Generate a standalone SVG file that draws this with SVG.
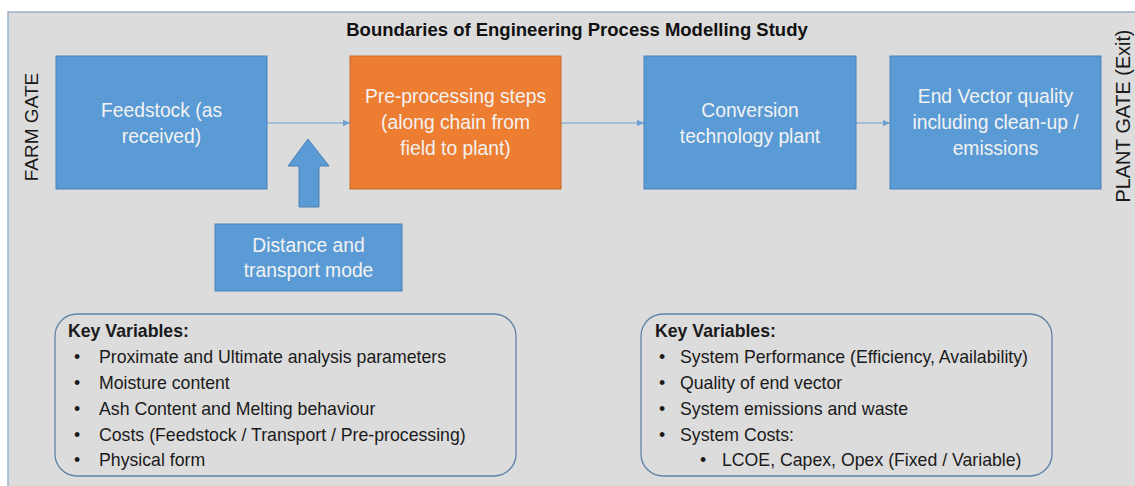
<svg xmlns="http://www.w3.org/2000/svg" width="1135" height="486" viewBox="0 0 1135 486">
<defs>
<style>
.box{fill:#5b9bd5;stroke:#4a80b4;stroke-width:1}
.orange{fill:#ed7d31;stroke:#c5692c;stroke-width:1}
.lbl{font-family:"Liberation Sans",Arial,sans-serif;font-size:19.3px;fill:#f2f2f2;text-anchor:middle}
.kv{fill:none;stroke:#5f82a6;stroke-width:1.3}
.kt{font-family:"Liberation Sans",Arial,sans-serif;font-size:17.7px;fill:#1a1a1a}
.kb{font-family:"Liberation Sans",Arial,sans-serif;font-size:17.7px;font-weight:bold;fill:#1a1a1a}
.gate{font-family:"Liberation Sans",Arial,sans-serif;font-size:19px;fill:#1a1a1a;text-anchor:middle}
.conn{stroke:#6fa0d0;stroke-width:1;fill:none}
</style>
<marker id="ah" markerWidth="8" markerHeight="8" refX="7" refY="4" orient="auto" markerUnits="userSpaceOnUse">
<path d="M0,0.8 L7,4 L0,7.2 Z" fill="#6fa0d0"/>
</marker>
</defs>
<rect x="0" y="0" width="1135" height="486" fill="#ffffff"/>
<rect id="panel" x="8" y="12" width="1140" height="490" fill="#dcdcdc" stroke="#98b0c8" stroke-width="1.5"/>
<text x="577" y="36" font-family="Liberation Sans,Arial,sans-serif" font-size="18.5" font-weight="bold" fill="#111" text-anchor="middle">Boundaries of Engineering Process Modelling Study</text>
<text class="gate" transform="translate(38,127) rotate(-90)">FARM GATE</text>
<text class="gate" font-size="19.8" style="font-size:19.8px" transform="translate(1130,116) rotate(-90)">PLANT GATE (Exit)</text>
<g id="connectors">
<line class="conn" x1="267" y1="123" x2="350" y2="123" marker-end="url(#ah)"/>
<line class="conn" x1="561" y1="123" x2="644" y2="123" marker-end="url(#ah)"/>
<line class="conn" x1="856" y1="123" x2="890" y2="123" marker-end="url(#ah)"/>
<path d="M308,139 L329,166 L319,166 L319,207 L299,207 L299,166 L288,166 Z" fill="#5b9bd5" stroke="#4a80b4" stroke-width="1"/>
</g>
<g id="feedstock">
<rect class="box" x="56" y="56" width="211" height="133"/>
<text class="lbl" x="161.5" y="117">Feedstock (as</text>
<text class="lbl" x="161.5" y="143">received)</text>
</g>
<g id="preprocessing">
<rect class="orange" x="350" y="56" width="211" height="133"/>
<text class="lbl" x="455.5" y="103">Pre-processing steps</text>
<text class="lbl" x="455.5" y="129">(along chain from</text>
<text class="lbl" x="455.5" y="155">field to plant)</text>
</g>
<g id="conversion">
<rect class="box" x="644" y="56" width="212" height="133"/>
<text class="lbl" x="750" y="117">Conversion</text>
<text class="lbl" x="750" y="143">technology plant</text>
</g>
<g id="endvector">
<rect class="box" x="890" y="56" width="211" height="133"/>
<text class="lbl" x="995.5" y="103">End Vector quality</text>
<text class="lbl" x="995.5" y="129">including clean-up /</text>
<text class="lbl" x="995.5" y="155">emissions</text>
</g>
<g id="distance">
<rect class="box" x="215" y="224" width="187" height="67"/>
<text class="lbl" x="308.5" y="252">Distance and</text>
<text class="lbl" x="308.5" y="277">transport mode</text>
</g>
<g id="keyvars-left">
<rect class="kv" x="55" y="314" width="461" height="162" rx="22" ry="22"/>
<text class="kb" x="68" y="337">Key Variables:</text>
<g class="kt">
<text x="74" y="362.5">•</text><text x="99" y="362.5">Proximate and Ultimate analysis parameters</text>
<text x="74" y="388.5">•</text><text x="99" y="388.5">Moisture content</text>
<text x="74" y="414.5">•</text><text x="99" y="414.5">Ash Content and Melting behaviour</text>
<text x="74" y="440.5">•</text><text x="99" y="440.5">Costs (Feedstock / Transport / Pre-processing)</text>
<text x="74" y="466">•</text><text x="99" y="466">Physical form</text>
</g>
</g>
<g id="keyvars-right">
<rect class="kv" x="641" y="314" width="411" height="162" rx="22" ry="22"/>
<text class="kb" x="655" y="337">Key Variables:</text>
<g class="kt">
<text x="659" y="362.5">•</text><text x="680" y="362.5">System Performance (Efficiency, Availability)</text>
<text x="659" y="388.5">•</text><text x="680" y="388.5">Quality of end vector</text>
<text x="659" y="414.5">•</text><text x="680" y="414.5">System emissions and waste</text>
<text x="659" y="440.5">•</text><text x="680" y="440.5">System Costs:</text>
<text x="700" y="466">•</text><text x="722" y="466">LCOE, Capex, Opex (Fixed / Variable)</text>
</g>
</g>
</svg>
